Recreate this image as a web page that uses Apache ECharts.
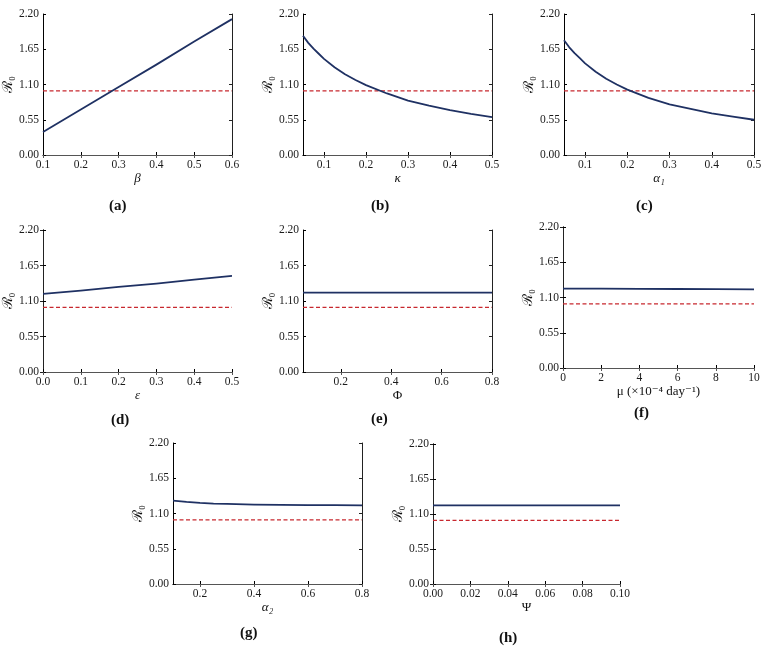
<!DOCTYPE html>
<html>
<head>
<meta charset="utf-8">
<title>R0 sensitivity</title>
<script src="https://cdn.jsdelivr.net/npm/echarts@6/dist/echarts.min.js"></script>
<style>
  html, body { margin: 0; padding: 0; background: #fff; }
  #main { width: 776px; height: 647px; }
</style>
</head>
<body>
<div id="main"></div>
<script>
// shared y axis and threshold
var yTicks = [0, 0.55, 1.10, 1.65, 2.20];
var threshold = 1.0;

// (a) beta
var betaVals = [0.1, 0.2, 0.3, 0.4, 0.5, 0.6];
var r0Beta = [0.36, 0.71, 1.06, 1.41, 1.77, 2.12];
var betaTicks = [0.1, 0.2, 0.3, 0.4, 0.5, 0.6];

// (b) kappa
var kappaVals = [0.05, 0.0625, 0.075, 0.0875, 0.1, 0.125, 0.15, 0.175, 0.2, 0.25, 0.3, 0.35, 0.4, 0.45, 0.5];
var r0Kappa = [1.86, 1.75, 1.66, 1.58, 1.50, 1.37, 1.26, 1.17, 1.09, 0.96, 0.85, 0.77, 0.70, 0.64, 0.59];
var kappaTicks = [0.1, 0.2, 0.3, 0.4, 0.5];

// (c) alpha1
var alpha1Vals = [0.05, 0.0625, 0.075, 0.0875, 0.1, 0.125, 0.15, 0.175, 0.2, 0.25, 0.3, 0.35, 0.4, 0.45, 0.5];
var r0Alpha1 = [1.79, 1.68, 1.59, 1.51, 1.43, 1.30, 1.19, 1.10, 1.02, 0.89, 0.79, 0.72, 0.65, 0.60, 0.55];
var alpha1Ticks = [0.1, 0.2, 0.3, 0.4, 0.5];

// (d) epsilon
var epsVals = [0, 0.1, 0.2, 0.3, 0.4, 0.5];
var r0Eps = [1.21, 1.26, 1.32, 1.37, 1.43, 1.49];
var epsTicks = [0, 0.1, 0.2, 0.3, 0.4, 0.5];

// (e) Phi
var phiVals = [0.05, 0.2, 0.4, 0.6, 0.8];
var r0Phi = [1.23, 1.23, 1.23, 1.23, 1.23];
var phiTicks = [0.2, 0.4, 0.6, 0.8];

// (f) mu (x10^-4 / day)
var muVals = [0, 2, 4, 6, 8, 10];
var r0Mu = [1.240, 1.238, 1.236, 1.233, 1.231, 1.228];
var muTicks = [0, 2, 4, 6, 8, 10];

// (g) alpha2
var alpha2Vals = [0.1, 0.15, 0.2, 0.25, 0.3, 0.4, 0.5, 0.6, 0.7, 0.8];
var r0Alpha2 = [1.30, 1.28, 1.265, 1.255, 1.25, 1.24, 1.235, 1.232, 1.23, 1.228];
var alpha2Ticks = [0.2, 0.4, 0.6, 0.8];

// (h) Psi
var psiVals = [0, 0.02, 0.04, 0.06, 0.08, 0.1];
var r0Psi = [1.236, 1.236, 1.236, 1.236, 1.236, 1.236];
var psiTicks = [0, 0.02, 0.04, 0.06, 0.08, 0.1];

var lineColor = '#1f3163';
var dashColor = '#c8282f';
var serif = '"Liberation Serif", "DejaVu Serif", serif';

// layout of each panel (plot box in pixels) and its caption
var panels = [
  { box: [43, 14, 189, 141],  x: betaVals,   y: r0Beta,   ticks: betaTicks,   min: 0.1,  max: 0.6, dec: 1, name: 'β',  italic: true,  tag: '(a)', tagPos: [121, 208] },
  { box: [303, 14, 189, 141], x: kappaVals,  y: r0Kappa,  ticks: kappaTicks,  min: 0.05, max: 0.5, dec: 1, name: 'κ',  italic: true,  tag: '(b)', tagPos: [383, 208] },
  { box: [564, 14, 190, 141], x: alpha1Vals, y: r0Alpha1, ticks: alpha1Ticks, min: 0.05, max: 0.5, dec: 1, name: 'α₁', italic: true,  tag: '(c)', tagPos: [648, 208] },
  { box: [43, 230, 189, 142], x: epsVals,    y: r0Eps,    ticks: epsTicks,    min: 0,    max: 0.5, dec: 1, name: 'ε',  italic: true,  tag: '(d)', tagPos: [123, 422] },
  { box: [303, 230, 189, 142], x: phiVals,   y: r0Phi,    ticks: phiTicks,    min: 0.05, max: 0.8, dec: 1, name: 'Φ',  italic: false, tag: '(e)', tagPos: [383, 421] },
  { box: [563, 227, 191, 141], x: muVals,    y: r0Mu,     ticks: muTicks,     min: 0,    max: 10,  dec: 0, name: 'μ (×10⁻⁴ day⁻¹)', italic: false, tag: '(f)', tagPos: [646, 415] },
  { box: [173, 443, 189, 141], x: alpha2Vals, y: r0Alpha2, ticks: alpha2Ticks, min: 0.1, max: 0.8, dec: 1, name: 'α₂', italic: true,  tag: '(g)', tagPos: [252, 635] },
  { box: [433, 444, 187, 140], x: psiVals,   y: r0Psi,    ticks: psiTicks,    min: 0,    max: 0.1, dec: 2, name: 'Ψ',  italic: false, tag: '(h)', tagPos: [511, 640] }
];

var grids = [], xAxes = [], yAxes = [], series = [], graphics = [];

panels.forEach(function(p, i) {
  grids.push({ left: p.box[0], top: p.box[1], width: p.box[2], height: p.box[3] });

  // bottom axis with labels
  xAxes.push({
    type: 'value', gridIndex: i, position: 'bottom', min: p.min, max: p.max,
    name: p.name, nameLocation: 'middle', nameGap: 15,
    nameTextStyle: { fontFamily: serif, fontSize: 13, color: '#111', fontStyle: p.italic ? 'italic' : 'normal' },
    axisLine: { show: true, lineStyle: { color: '#000', width: 1 } },
    axisTick: { show: true, inside: true, length: 3, customValues: p.ticks, lineStyle: { color: '#000' } },
    axisLabel: {
      customValues: p.ticks, margin: 4, fontFamily: serif, fontSize: 11.5, color: '#1a1a1a',
      formatter: (function(d) { return function(v) { return Number(v).toFixed(d); }; })(p.dec)
    },
    splitLine: { show: false }
  });
  // top frame
  xAxes.push({
    type: 'value', gridIndex: i, position: 'top', min: p.min, max: p.max,
    axisLine: { show: true, lineStyle: { color: '#555', width: 1 } },
    axisTick: { show: true, inside: true, length: 3, customValues: p.ticks, lineStyle: { color: '#555' } },
    axisLabel: { show: false },
    splitLine: { show: false }
  });
  // left axis with labels
  yAxes.push({
    type: 'value', gridIndex: i, position: 'left', min: 0, max: 2.2,
    name: 'ℛ₀', nameLocation: 'middle', nameGap: 23, nameRotate: 90,
    nameTextStyle: { fontFamily: serif, fontSize: 14, color: '#111' },
    axisLine: { show: true, lineStyle: { color: '#000', width: 1 } },
    axisTick: { show: true, inside: true, length: 3, customValues: yTicks, lineStyle: { color: '#000' } },
    axisLabel: {
      customValues: yTicks, margin: 4, fontFamily: serif, fontSize: 11.5, color: '#1a1a1a',
      formatter: function(v) { return Number(v).toFixed(2); }
    },
    splitLine: { show: false }
  });
  // right frame
  yAxes.push({
    type: 'value', gridIndex: i, position: 'right', min: 0, max: 2.2,
    axisLine: { show: true, lineStyle: { color: '#222', width: 1 } },
    axisTick: { show: true, inside: true, length: 3, customValues: yTicks, lineStyle: { color: '#222' } },
    axisLabel: { show: false },
    splitLine: { show: false }
  });

  // R0 = 1 threshold
  series.push({
    type: 'line', xAxisIndex: 2 * i, yAxisIndex: 2 * i,
    data: [[p.min, threshold], [p.max, threshold]],
    showSymbol: false, symbol: 'none', silent: true,
    lineStyle: { color: dashColor, width: 1.2, type: [4, 2.5] },
    z: 2
  });
  series.push({
    type: 'line', xAxisIndex: 2 * i, yAxisIndex: 2 * i,
    data: p.x.map(function(v, k) { return [v, p.y[k]]; }),
    smooth: false, showSymbol: false, symbol: 'none',
    lineStyle: { color: lineColor, width: 1.8, join: 'round' },
    z: 3
  });

  graphics.push({
    type: 'text', left: p.tagPos[0] - 12, top: p.tagPos[1] - 9,
    style: { text: p.tag, fontFamily: serif, fontSize: 15, fontWeight: 'bold', fill: '#111' }
  });
});

var myChart = echarts.init(document.getElementById('main'), null, { renderer: 'canvas' });
myChart.setOption({
  animation: false,
  backgroundColor: '#fff',
  grid: grids,
  xAxis: xAxes,
  yAxis: yAxes,
  series: series,
  graphic: graphics
});
</script>
</body>
</html>
